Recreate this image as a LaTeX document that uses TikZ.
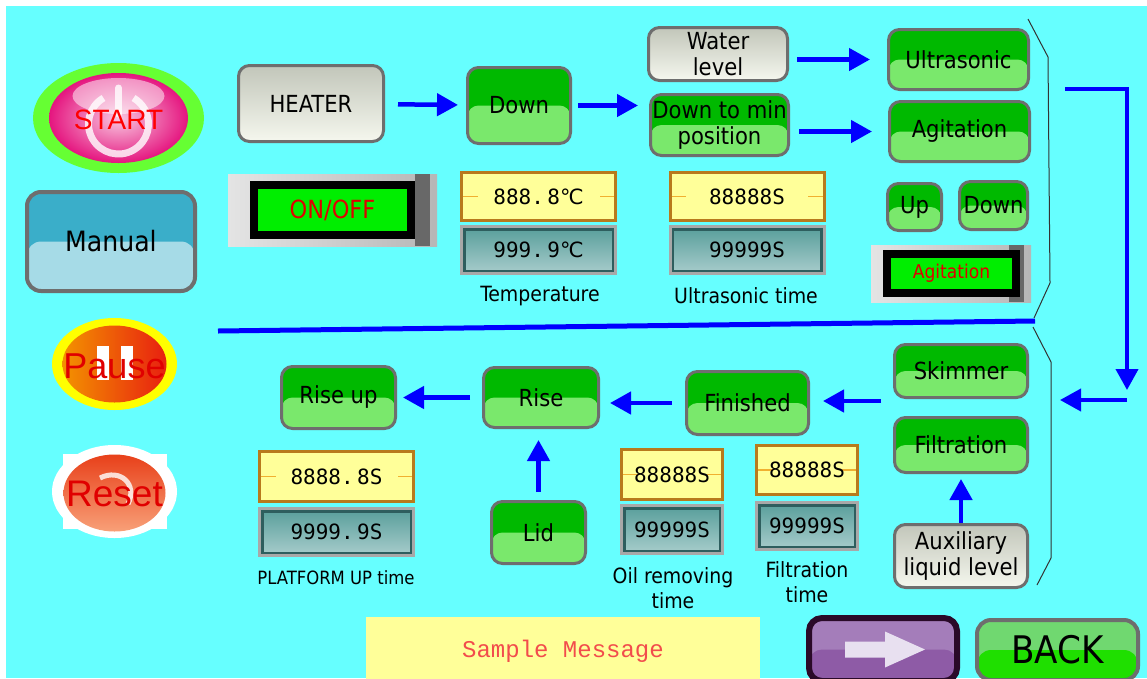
\documentclass[tikz,border=0pt]{standalone}
\usepackage{fontspec}
\setmainfont{DejaVu Sans Condensed}
\newfontfamily\dispfont{DejaVu Sans Mono}
\newfontfamily\symfont{DejaVu Sans}
\newfontfamily\msgfont{Liberation Mono}
\newfontfamily\bigfont{Liberation Sans}
\usetikzlibrary{arrows.meta}

\definecolor{screen}{HTML}{66FFFF}
\definecolor{flowblue}{HTML}{0000FF}
\definecolor{btnedge}{HTML}{6E6E6E}
\definecolor{btngreen}{HTML}{00B900}
\definecolor{btnlight}{HTML}{7AE86C}
\definecolor{wtop}{HTML}{C2C6BA}
\definecolor{wbot}{HTML}{F5F7EE}
\definecolor{mantop}{HTML}{3AAEC9}
\definecolor{manlow}{HTML}{A6DBE7}
\definecolor{dispyellow}{HTML}{FFFF99}
\definecolor{dispbrown}{HTML}{B87A1C}
\definecolor{tickorange}{HTML}{F0B030}
\definecolor{dispedge}{HTML}{A8A8A8}
\definecolor{dispdark}{HTML}{2E5E5E}
\definecolor{gtop}{HTML}{579E9A}
\definecolor{gbot}{HTML}{A8CDCC}
\definecolor{swgreen}{HTML}{00EE00}
\definecolor{swlight}{HTML}{E4E4E4}
\definecolor{swdark}{HTML}{686868}
\definecolor{textred}{HTML}{E00000}
\definecolor{startgreen}{HTML}{66FF33}
\definecolor{startpink}{HTML}{E5157F}
\definecolor{startpale}{HTML}{F8C8E0}
\definecolor{pauseyellow}{HTML}{FFFF00}
\definecolor{pauseorange}{HTML}{F39200}
\definecolor{pausered}{HTML}{E82010}
\definecolor{resettop}{HTML}{E8401A}
\definecolor{resetbot}{HTML}{F8A078}
\definecolor{msgyellow}{HTML}{FFFF99}
\definecolor{msgred}{HTML}{F24C4C}
\definecolor{nextedge}{HTML}{2A0A28}
\definecolor{nexttop}{HTML}{A47DBA}
\definecolor{nextlow}{HTML}{8E5BA6}
\definecolor{nextarrow}{HTML}{E8E0F0}
\definecolor{backtop}{HTML}{70D870}
\definecolor{backlow}{HTML}{1FDF00}

\tikzset{
  flow/.style={draw=flowblue, line width=4.5pt, -{Triangle[length=21pt,width=22pt]}},
  btn/.style={draw=btnedge, line width=3pt, rounded corners=11pt, align=center, inner sep=1pt, font=\fontsize{23.5}{26}\selectfont},
  greenbtn/.style={btn, fill=btngreen,
    path picture={\fill[btnlight] (path picture bounding box.west) rectangle (path picture bounding box.south east);}},
  whitebtn/.style={btn, top color=wtop, bottom color=wbot},
  manbtn/.style={draw=btnedge, line width=4pt, rounded corners=14pt, fill=mantop, font=\fontsize{28}{30}\selectfont,
    path picture={\fill[manlow] (path picture bounding box.west) rectangle (path picture bounding box.south east);}},
  nextbtn/.style={draw=nextedge, line width=6pt, rounded corners=13pt, fill=nexttop,
    path picture={\fill[nextlow] (path picture bounding box.west) rectangle (path picture bounding box.south east);}},
  backbtn/.style={draw=btnedge, line width=4pt, rounded corners=14pt, fill=backtop, font=\fontsize{38}{40}\selectfont,
    path picture={\fill[backlow] (path picture bounding box.west) rectangle (path picture bounding box.south east);}},
  setbox/.style={draw=dispbrown, line width=3pt, fill=dispyellow, font=\dispfont\fontsize{21}{24}\selectfont,
    path picture={\draw[tickorange, line width=1.2pt] (path picture bounding box.west) -- ++(16pt,0pt) (path picture bounding box.east) -- ++(-16pt,0pt);}},
  actbox/.style={draw=dispedge, line width=3pt, top color=gtop, bottom color=gbot, font=\dispfont\fontsize{21}{24}\selectfont,
    path picture={\draw[dispdark, line width=8pt] (path picture bounding box.south west) rectangle (path picture bounding box.north east);}},
  swbase/.style={left color=swlight, right color=swlight!80!black, inner sep=0pt,
    path picture={\fill[swdark] ([xshift=-22pt]path picture bounding box.north east) rectangle ([xshift=-7pt]path picture bounding box.south east);}},
  swface/.style={fill=swgreen, draw=black, line width=8pt, text=textred, inner sep=0pt},
  caption/.style={font=\fontsize{21}{25}\selectfont, align=center},
  bracket/.style={draw=black!80, line width=1pt},
}

\begin{document}
\begin{tikzpicture}[x=1pt,y=-1pt]
    \useasboundingbox (0,0) rectangle (1147,678);
    \clip (0,0) rectangle (1147,678);
    %% screen
    \fill[white] (0,0) rectangle (1147,678);
    \fill[screen] (6,6) rectangle (1147,678);

    %% START
    \fill[startgreen] (118.5,118) ellipse [x radius=85.5pt, y radius=55pt];
    \shade[inner color=startpale, outer color=startpink] (118.5,118) ellipse [x radius=69.5pt, y radius=45pt];
    \fill[white, opacity=.5] (118.5,96) ellipse [x radius=46pt, y radius=18pt];
    \draw[white, line width=7pt, opacity=.8] (118.5,124) ++(120:30pt) arc[start angle=120, end angle=420, radius=30pt];
    \draw[white, line width=7pt, line cap=round, opacity=.8] (118.5,88) -- (118.5,114);
    \node[font=\bigfont\fontsize{28}{30}\selectfont, text=red] (start) at (118.5,120) {START};

    %% Manual
    \node[manbtn, minimum width=168pt, minimum height=99pt] (manual) at (111,241.5) {Manual};

    %% Pause
    \fill[pauseyellow] (114.5,364) ellipse [x radius=62.5pt, y radius=46pt];
    \shade[left color=pauseorange, right color=pausered] (114.5,364) ellipse [x radius=52pt, y radius=38.5pt];
    \fill[white] (97,346) rectangle (109,380);
    \fill[white] (121,346) rectangle (133,380);
    \node[font=\bigfont\fontsize{36}{38}\selectfont, text=textred] (pause) at (114.5,366) {Pause};

    %% Reset
    \fill[white] (114.5,491.5) ellipse [x radius=62.5pt, y radius=46.5pt];
    \fill[white] (63,454) rectangle (167,529);
    \shade[top color=resettop, bottom color=resetbot] (114.5,493) ellipse [x radius=51pt, y radius=38.5pt];
    \draw[white, line width=5pt, opacity=.8] (100,478) .. controls (120,468) and (138,484) .. (128,504);
    \node[font=\bigfont\fontsize{37}{39}\selectfont, text=textred] (reset) at (114.5,494) {Reset};

    %% heater row
    \node[whitebtn, minimum width=145pt, minimum height=76pt] (heater) at (311,103.5) {HEATER};
    \node[swbase, minimum width=209pt, minimum height=72pt] (onoffbase) at (332.5,210) {};
    \node[swface, minimum width=157pt, minimum height=50pt, font=\fontsize{25}{27}\selectfont] (onoff) at (332.5,210) {ON/OFF};
    \node[greenbtn, minimum width=103pt, minimum height=76pt] (down) at (519,105.5) {Down};
    \node[whitebtn, minimum width=139pt, minimum height=53pt] (water) at (718,54) {Water\\level};
    \node[greenbtn, minimum width=138pt, minimum height=61pt, inner sep=0pt] (downmin) at (719.5,125) {Down to min\\position};
    \node[greenbtn, minimum width=140pt, minimum height=60pt] (ultra) at (958.5,59.5) {Ultrasonic};
    \node[greenbtn, minimum width=140pt, minimum height=60pt] (agit) at (959.5,131.5) {Agitation};
    \node[greenbtn, minimum width=54pt, minimum height=47pt] (up) at (914.5,207) {Up};
    \node[greenbtn, minimum width=68pt, minimum height=48pt, inner sep=0pt] (downsm) at (993.5,205.5) {Down};
    \node[swbase, minimum width=160pt, minimum height=57pt] (agitbase) at (951,273.5) {};
    \node[swface, minimum width=129pt, minimum height=39pt, font=\fontsize{19}{21}\selectfont] (agitsw) at (951.5,273.5) {Agitation};

    %% displays
    \node[setbox, minimum width=154pt, minimum height=48pt] (tempset) at (538.5,196.5) {888.\,8{\symfont ℃}};
    \node[actbox, minimum width=154pt, minimum height=47pt] (tempact) at (538.5,250) {999.\,9{\symfont ℃}};
    \node[caption] (tempname) at (540,296) {Temperature};
    \node[setbox, minimum width=154pt, minimum height=48pt] (ultset) at (747,196.5) {88888S};
    \node[actbox, minimum width=154pt, minimum height=47pt] (ultact) at (747,250) {99999S};
    \node[caption] (ultname) at (746,296) {Ultrasonic time};

    \draw[flow, shorten <=13pt, shorten >=8pt] (heater) -- (down);
    \draw[flow, shorten <=6pt, shorten >=11pt] (down.east) -- (down.east -| downmin.west);
    \draw[flow, shorten <=8pt, shorten >=17pt] (water.east |- ultra) -- (ultra.west);
    \draw[flow, shorten <=9pt, shorten >=16pt] (downmin.east |- agit) -- (agit.west);

    %% brackets and divider
    \draw[bracket] (1028,19) -- (1048,57) -- (1050,283) -- (1034,318);
    \draw[bracket] (1033,327) -- (1051,362) -- (1051,558) -- (1037,585);
    \draw[flowblue, line width=5pt] (218,331) -- (1035,321);

    %% loop to lower part
    \coordinate (loopin) at (1065,89);
    \coordinate (loopturn) at (1127,390);
    \coordinate (backin) at (1127,400);
    \coordinate (backout) at (1060,400);
    \draw[flow, line width=4pt] (loopin) -| (loopturn);
    \draw[flow, line width=4pt] (backin) -- (backout);

    %% lower row
    \node[greenbtn, minimum width=133pt, minimum height=53pt] (skim) at (961,371) {Skimmer};
    \node[greenbtn, minimum width=133pt, minimum height=55pt] (filt) at (961,445) {Filtration};
    \node[whitebtn, minimum width=133pt, minimum height=63pt, inner sep=0pt] (aux) at (961,556) {Auxiliary\\liquid level};
    \node[greenbtn, minimum width=122pt, minimum height=63pt] (finished) at (747.5,403) {Finished};
    \node[greenbtn, minimum width=115pt, minimum height=60pt] (rise) at (541,397.5) {Rise};
    \node[greenbtn, minimum width=114pt, minimum height=62pt] (riseup) at (338.5,397.5) {Rise up};
    \node[greenbtn, minimum width=94pt, minimum height=62pt] (lid) at (538.5,532.5) {Lid};

    \node[setbox, minimum width=154pt, minimum height=50pt] (platset) at (336.5,476.5) {8888.\,8S};
    \node[actbox, minimum width=154pt, minimum height=47pt] (platact) at (336.5,532) {9999.\,9S};
    \node[caption, font=\fontsize{18.3}{20}\selectfont] (platname) at (336,578) {PLATFORM UP time};
    \node[setbox, minimum width=101pt, minimum height=50pt] (oilset) at (672,474.5) {88888S};
    \node[actbox, minimum width=101pt, minimum height=48pt] (oilact) at (672,529.5) {99999S};
    \node[caption] (oilname) at (673,588) {Oil removing\\time};
    \node[setbox, minimum width=101pt, minimum height=49pt] (filset) at (807,470) {88888S};
    \node[actbox, minimum width=101pt, minimum height=47pt] (filact) at (807,526) {99999S};
    \node[caption] (filname) at (807,582) {Filtration\\time};

    \coordinate (grpout) at (881,401);
    \draw[flow, shorten >=13pt] (grpout) -- (grpout -| finished.east);
    \draw[flow, shorten <=13pt, shorten >=10pt] (finished.west) -- (finished.west -| rise.east);
    \draw[flow, shorten <=12pt, shorten >=6pt] (rise.west) -- (rise.west -| riseup.east);
    \draw[flow, shorten <=8pt, shorten >=11pt] (lid.north) -- (lid.north |- rise.south);
    \draw[flow, shorten >=5pt] (aux) -- (filt);

    %% bottom bar
    \node[fill=msgyellow, minimum width=394pt, minimum height=68pt, font=\msgfont\fontsize{24}{26}\selectfont, text=msgred] (msg) at (563,651) {Sample Message};
    \node[nextbtn, minimum width=148pt, minimum height=63pt] (next) at (883,649.5) {};
    \fill[nextarrow] ([shift={(-38pt,-8pt)}]next.center) -- ([shift={(2pt,-8pt)}]next.center) -- ([shift={(2pt,-18pt)}]next.center)
        -- ([shift={(42pt,0pt)}]next.center) -- ([shift={(2pt,18pt)}]next.center) -- ([shift={(2pt,8pt)}]next.center)
        -- ([shift={(-38pt,8pt)}]next.center) -- cycle;
    \node[backbtn, minimum width=161pt, minimum height=60pt] (back) at (1057.5,650) {BACK};
\end{tikzpicture}
\end{document}
